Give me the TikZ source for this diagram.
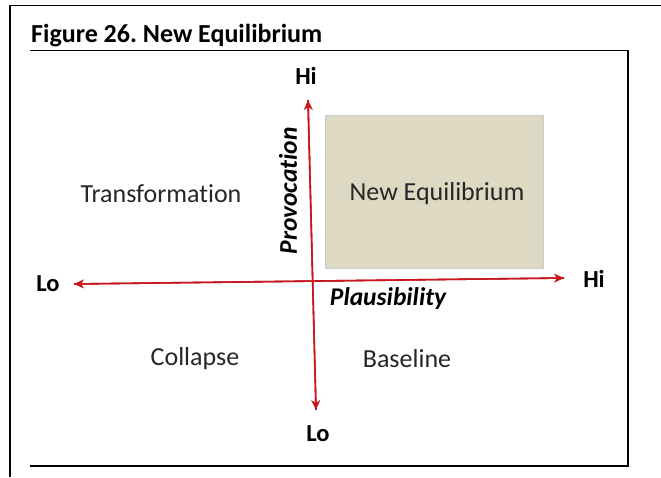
\documentclass[tikz,border=0pt]{standalone}
\usepackage{fontspec}
\setmainfont{Carlito}[Ligatures=NoCommon]
\frenchspacing
\usetikzlibrary{arrows.meta,shadows}
\definecolor{axisred}{HTML}{C8161E}
\definecolor{boxtan}{HTML}{DDD9C3}
\tikzset{
  frameline/.style={line width=1.6pt,black},
  axisarrow/.style={draw=axisred,line width=1.6pt,-{Stealth[length=10pt,width=9pt,inset=3pt]}},
  ends/.style={font=\fontsize{24.5}{28}\selectfont\bfseries,inner sep=0pt},
  quad/.style={font=\fontsize{26}{30}\selectfont,text=black!85,inner sep=0pt},
  axislabel/.style={font=\fontsize{25.5}{29}\selectfont\bfseries\itshape,inner sep=0pt},
}
\begin{document}
\begin{tikzpicture}[x=1pt,y=-1pt]
\useasboundingbox (0,0) rectangle (661,477);
% frames
\draw[frameline] (10,477) -- (10,5.5) -- (661,5.5);
\draw[line width=1.4pt] (30,50.5) -- (628,50.5) -- (628,466) -- (30,466);
\node[anchor=base west,font=\fontsize{26}{30}\selectfont\bfseries,inner sep=0pt] (title) at (31,42) {Figure 26. New Equilibrium};
% box
\node[draw=black!20,fill=boxtan,minimum width=218pt,minimum height=153pt,inner sep=0pt,
      drop shadow={shadow xshift=1pt,shadow yshift=-1pt,opacity=0.25}] (neq) at (434,191.5) {};
\node[quad] (neqt) at (437,194) {New Equilibrium};
% axis endpoints
\coordinate (vtop) at (308,100);
\coordinate (vbot) at (316,410);
\coordinate (hleft) at (74,284);
\coordinate (hright) at (564,278);
\draw[axisarrow] (vbot) -- (vtop);
\draw[axisarrow] (vtop) -- (vbot);
\draw[axisarrow] (hright) -- (hleft);
\draw[axisarrow] (hleft) -- (hright);
% end labels
\node[ends] (hiv) at (306,76) {Hi};
\node[ends] (lov) at (318,434) {Lo};
\node[ends] (loh) at (48,284) {Lo};
\node[ends] (hih) at (594,279) {Hi};
% axis labels
\node[axislabel,rotate=90] (prov) at (288,191) {Provocation};
\node[axislabel] (plaus) at (388,299) {Plausibility};
% quadrant labels
\node[quad] (trans) at (161,194) {Transformation};
\node[quad] (coll) at (195,359) {Collapse};
\node[quad] (base) at (407,359) {Baseline};
\end{tikzpicture}
\end{document}
